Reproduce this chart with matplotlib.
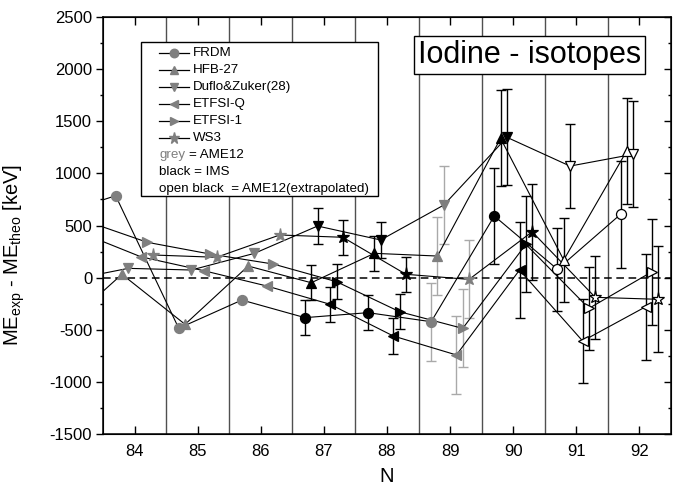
import numpy as np
import matplotlib
matplotlib.use("Agg")
import matplotlib.pyplot as plt
from matplotlib.patches import Rectangle

plt.rcParams['font.family'] = ['Liberation Sans', 'DejaVu Sans']
plt.rcParams['axes.unicode_minus'] = False

# neutron number; N=83 sits just left of the visible range, only its lines show
N = np.array([83, 84, 85, 86, 87, 88, 89, 90, 91, 92])
# source of the experimental mass per N: grey = AME12, black = IMS, open = AME12 extrapolated
source = ['grey', 'grey', 'grey', 'grey', 'black', 'black', 'grey', 'black', 'open', 'open']
err = np.array([0, 0, 0, 0, 170, 170, 375, 460, 400, 510])

models = ['FRDM', 'HFB-27', 'Duflo&Zuker(28)', 'ETFSI-Q', 'ETFSI-1', 'WS3']
frdm = [586, 786, -486, -215, -384, -336, -423, 591, 80, 607]
hfb27 = [-512, 32, -448, 111, -49, 233, 207, 1336, 169, 1217]
duflo = [-31, 89, 73, 233, 495, 361, 696, 1346, 1070, 1183]
etfsiq = [443, 200, 66, -81, -256, -560, -742, 73, -608, -279]
etfsi1 = [549, 339, 226, 130, -39, -327, -487, 319, -295, 57]
ws3 = [np.nan, 217, 195, 409, 387, 32, -17, 440, -189, -208]
values = [frdm, hfb27, duflo, etfsiq, etfsi1, ws3]

# horizontal shift of each model inside an N cell, and its marker
offsets = [-0.3, -0.2, -0.1, 0.1, 0.2, 0.3]
markers = ['o', '^', 'v', '<', '>', '*']
msizes = [7.2, 7.5, 7.5, 7.5, 7.5, 9.5]

GREY = '#7f7f7f'
# face, edge, errorbar colour
style = {'grey': (GREY, GREY, '#a9a9a9'),
         'black': ('black', 'black', 'black'),
         'open': ('white', 'black', 'black')}

fig = plt.figure(figsize=(6.83, 4.90), dpi=100)
ax = fig.add_axes([103 / 683, 1 - 434 / 490, 568 / 683, 417 / 490])

for xs in np.arange(84.5, 92, 1.0):
    ax.axvline(xs, color='#505050', lw=1.0, zorder=1)
ax.axhline(0, color='black', lw=1.1, ls=(0, (5, 3)), zorder=1)

for vals, off, mk, ms in zip(values, offsets, markers, msizes):
    x = N + off
    y = np.array(vals, dtype=float)
    ax.plot(x, y, color='black', lw=0.8, zorder=3)
    for xi, yi, ei, src in zip(x, y, err, source):
        if np.isnan(yi):
            continue
        fc, ec, ebc = style[src]
        if ei > 0:
            ax.errorbar(xi, yi, yerr=ei, fmt='none', ecolor=ebc, elinewidth=1.0,
                        capsize=3.5, capthick=1.0, zorder=2)
        ax.plot(xi, yi, marker=mk, ms=ms, mfc=fc, mec=ec, mew=0.9,
                ls='none', zorder=4)

ax.set_xlim(83.5, 92.5)
ax.set_ylim(-1500, 2500)
ax.set_xticks(np.arange(84, 93))
ax.set_yticks(np.arange(-1500, 2501, 500))
ax.set_yticks(np.arange(-1500, 2501, 250), minor=True)
ax.tick_params(axis='x', which='major', direction='in', top=True, length=5.5,
               width=1, labelsize=12, pad=7)
ax.tick_params(axis='y', which='major', direction='out', length=4.8, width=1,
               labelsize=12, pad=3)
ax.tick_params(axis='y', which='minor', direction='out', length=2.5, width=1)
for spine in ax.spines.values():
    spine.set_linewidth(1.1)

# right axis ticks point inwards
ax2 = ax.twinx()
ax2.set_ylim(ax.get_ylim())
ax2.set_yticks(ax.get_yticks())
ax2.set_yticks(np.arange(-1500, 2501, 250), minor=True)
ax2.tick_params(axis='y', which='major', direction='in', length=4.8, width=1,
                labelright=False)
ax2.tick_params(axis='y', which='minor', direction='in', length=2.5, width=1)

ax.set_xlabel('N', fontsize=14.5, labelpad=6)
ax.set_ylabel(r'ME$_\mathregular{exp}$ - ME$_\mathregular{theo}$ [keV]', fontsize=14.5)
ax.yaxis.set_label_coords(-0.134, 0.43)

ax.text(0.751, 0.909, 'Iodine - isotopes', transform=ax.transAxes, fontsize=22,
        ha='center', va='center', zorder=6,
        bbox=dict(boxstyle='square,pad=0.14', fc='white', ec='black', lw=1))

# legend box drawn by hand (Origin-style, with plain text rows)
ax.add_patch(Rectangle((0.0664, 0.5707), 0.4183, 0.3701, transform=ax.transAxes,
                       fc='white', ec='black', lw=1, zorder=5))
row_top, row_step = 53.3, 17.0
def row_y(i):
    return (434 - (row_top + i * row_step)) / 417

for i, (name, mk, ms) in enumerate(zip(models, markers, msizes)):
    yy = row_y(i)
    ax.plot([0.0986, 0.1514], [yy, yy], color='black', lw=0.9,
            transform=ax.transAxes, zorder=6)
    ax.plot([0.125], [yy], marker=mk, ms=ms * 0.85, mfc=GREY, mec=GREY,
            ls='none', transform=ax.transAxes, zorder=7)
    ax.text(0.159, yy, name, transform=ax.transAxes, fontsize=9.6,
            va='center', zorder=7)

ax.text(0.0986, row_y(6), 'grey', color=GREY, transform=ax.transAxes,
        fontsize=9.6, va='center', zorder=7)
ax.text(0.0986 + 0.052, row_y(6), '= AME12', transform=ax.transAxes,
        fontsize=9.6, va='center', zorder=7)
ax.text(0.0986, row_y(7), 'black = IMS', transform=ax.transAxes,
        fontsize=9.6, va='center', zorder=7)
ax.text(0.0986, row_y(8), 'open black  = AME12(extrapolated)',
        transform=ax.transAxes, fontsize=9.6, va='center', zorder=7)

fig.savefig('out.png', dpi=100)
